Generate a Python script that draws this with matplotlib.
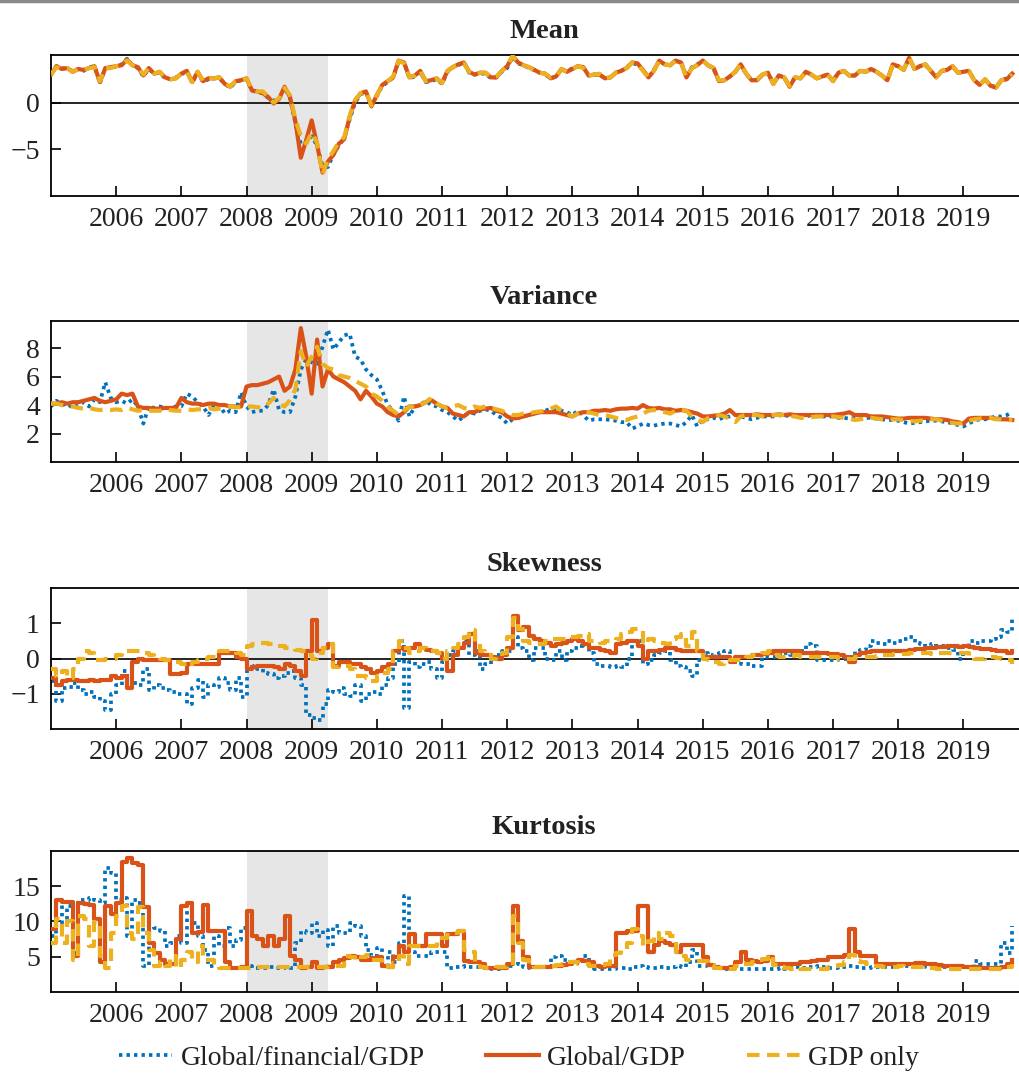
import matplotlib
matplotlib.use("Agg")
import matplotlib.pyplot as plt
from matplotlib.lines import Line2D
import numpy as np

plt.rcParams['font.family'] = ['Liberation Serif', 'DejaVu Serif']

# monthly readings, Jan 2005 .. Oct 2019 (one row per year)
mean_gfg = [3.1, 3.9, 3.7, 3.6, 3.4, 3.6, 3.4, 3.8, 3.9, 2.1, 3.6, 3.8,
            3.8, 4.1, 4.7, 4.0, 3.7, 2.8, 3.6, 3.1, 3.2, 2.6, 2.5, 2.7,
            3.0, 3.4, 2.1, 3.2, 2.2, 2.5, 2.6, 2.6, 2.0, 1.6, 2.2, 2.4,
            2.5, 1.3, 1.1, 1.0, 0.5, 0.2, 0.4, 1.6, 0.5, -2.2, -4.4, -4.3,
            -3.6, -4.6, -6.8, -6.9, -5.5, -4.6, -3.8, -1.8, 0.0, 0.9, 1.1, -0.3,
            0.7, 1.8, 2.2, 2.7, 4.4, 4.3, 2.6, 2.8, 3.3, 2.2, 2.3, 2.5,
            2.0, 3.3, 3.8, 4.0, 4.3, 3.2, 3.0, 3.1, 3.1, 2.6, 2.7, 3.3,
            3.7, 4.9, 4.2, 4.0, 3.7, 3.5, 3.2, 3.0, 2.6, 2.8, 3.6, 3.3,
            3.7, 3.9, 3.8, 2.9, 3.0, 3.0, 2.6, 2.7, 3.2, 3.4, 3.8, 4.2,
            4.1, 3.5, 2.7, 3.5, 4.5, 4.1, 4.0, 4.4, 4.4, 2.8, 3.8, 4.1,
            4.5, 4.0, 3.6, 2.3, 2.4, 2.8, 3.3, 4.0, 3.1, 2.4, 2.4, 3.0,
            3.2, 2.1, 2.9, 2.7, 1.8, 2.7, 2.6, 3.3, 3.0, 2.6, 2.8, 3.0,
            2.4, 3.2, 3.4, 2.9, 2.9, 3.4, 3.3, 3.6, 3.3, 2.9, 2.4, 4.0,
            3.9, 3.5, 4.7, 3.6, 3.9, 4.0, 3.4, 2.8, 3.4, 3.5, 3.9, 3.2,
            3.3, 3.4, 2.4, 1.9, 2.5, 1.8, 1.7, 2.4, 2.6, 3.1]
mean_gg = [3.0, 3.9, 3.6, 3.7, 3.3, 3.6, 3.5, 3.7, 3.9, 2.2, 3.7, 3.8,
           3.9, 4.0, 4.6, 4.0, 3.8, 2.9, 3.7, 3.1, 3.3, 2.7, 2.5, 2.6,
           3.1, 3.4, 2.2, 3.3, 2.3, 2.6, 2.6, 2.7, 2.0, 1.7, 2.3, 2.4,
           2.6, 1.3, 1.2, 1.0, 0.6, -0.1, 0.4, 1.7, 0.6, -2.0, -5.9, -4.0,
           -1.9, -4.5, -7.5, -6.3, -5.6, -4.4, -3.9, -1.5, 0.2, 1.0, 1.2, -0.4,
           0.8, 1.9, 2.3, 2.7, 4.5, 4.3, 2.7, 2.9, 3.4, 2.3, 2.4, 2.6,
           2.1, 3.4, 3.8, 4.1, 4.3, 3.3, 3.0, 3.2, 3.2, 2.7, 2.7, 3.4,
           3.9, 5.0, 4.3, 4.0, 3.8, 3.5, 3.2, 3.1, 2.6, 2.8, 3.6, 3.3,
           3.6, 3.9, 3.8, 2.9, 3.0, 3.0, 2.6, 2.7, 3.2, 3.4, 3.7, 4.3,
           4.2, 3.5, 2.7, 3.4, 4.5, 4.1, 4.0, 4.5, 4.3, 2.7, 3.7, 4.0,
           4.5, 4.0, 3.7, 2.3, 2.4, 2.8, 3.3, 4.1, 3.1, 2.4, 2.4, 3.0,
           3.2, 2.0, 2.9, 2.7, 1.7, 2.7, 2.6, 3.3, 3.0, 2.6, 2.8, 3.0,
           2.3, 3.2, 3.4, 2.9, 2.9, 3.4, 3.3, 3.6, 3.3, 2.9, 2.4, 4.1,
           3.9, 3.5, 4.8, 3.6, 3.9, 4.1, 3.4, 2.7, 3.4, 3.5, 3.9, 3.2,
           3.3, 3.4, 2.4, 1.9, 2.5, 1.8, 1.6, 2.4, 2.5, 3.1]
mean_gdp = [3.0, 3.8, 3.6, 3.7, 3.3, 3.6, 3.5, 3.7, 3.8, 2.3, 3.7, 3.7,
            3.9, 4.0, 4.5, 4.0, 3.8, 3.0, 3.7, 3.1, 3.3, 2.7, 2.5, 2.6,
            3.1, 3.3, 2.2, 3.3, 2.3, 2.6, 2.6, 2.7, 2.1, 1.7, 2.3, 2.4,
            2.6, 1.4, 1.2, 1.2, 0.6, 0.0, 0.5, 1.6, 0.8, -1.8, -3.6, -4.4,
            -3.2, -4.3, -7.7, -6.0, -5.2, -4.2, -3.7, -1.4, 0.3, 1.0, 1.2, -0.3,
            0.8, 1.9, 2.3, 2.8, 4.5, 4.2, 2.7, 2.9, 3.4, 2.3, 2.4, 2.6,
            2.1, 3.4, 3.8, 4.1, 4.2, 3.3, 3.0, 3.2, 3.2, 2.7, 2.8, 3.4,
            3.9, 5.0, 4.3, 4.0, 3.8, 3.4, 3.2, 3.1, 2.7, 2.8, 3.6, 3.3,
            3.6, 3.9, 3.7, 2.9, 3.0, 3.1, 2.6, 2.7, 3.2, 3.4, 3.7, 4.3,
            4.2, 3.4, 2.7, 3.4, 4.5, 4.1, 4.0, 4.5, 4.3, 2.7, 3.7, 4.0,
            4.5, 4.0, 3.7, 2.4, 2.4, 2.8, 3.3, 4.2, 3.1, 2.4, 2.5, 3.0,
            3.2, 2.0, 2.9, 2.7, 1.8, 2.7, 2.6, 3.3, 3.0, 2.6, 2.8, 3.0,
            2.3, 3.2, 3.4, 2.9, 2.9, 3.4, 3.3, 3.6, 3.3, 2.9, 2.3, 4.1,
            3.9, 3.5, 4.8, 3.6, 3.9, 4.1, 3.4, 2.7, 3.4, 3.5, 3.9, 3.2,
            3.3, 3.4, 2.4, 1.9, 2.5, 1.8, 1.6, 2.4, 2.5, 3.0]

var_gfg = [3.9, 4.3, 4.0, 4.1, 3.8, 4.0, 4.2, 3.9, 4.4, 4.2, 5.6, 4.5,
           4.2, 4.3, 4.1, 4.4, 3.9, 2.7, 3.9, 3.8, 3.9, 3.8, 3.8, 3.9,
           3.9, 4.8, 4.6, 4.2, 3.9, 3.3, 4.0, 4.0, 3.4, 3.6, 3.5, 4.9,
           3.9, 3.5, 3.6, 3.6, 4.0, 5.1, 3.65, 3.5, 3.5, 4.6, 6.5, 7.2,
           7.0, 6.9, 8.1, 9.3, 7.9, 8.4, 8.9, 9.0, 7.4, 7.2, 6.5, 6.1,
           5.8, 5.0, 4.0, 3.6, 2.9, 4.6, 3.2, 3.9, 4.0, 4.3, 4.0, 3.9,
           3.65, 3.5, 3.2, 2.9, 3.2, 3.5, 3.4, 3.6, 3.7, 3.6, 3.3, 3.1,
           2.7, 3.0, 3.1, 3.2, 3.3, 3.4, 3.5, 3.6, 3.75, 3.7, 3.6, 3.5,
           3.3, 3.6, 3.3, 2.9, 3.0, 3.0, 3.0, 2.95, 2.9, 2.8, 2.8, 2.35,
           2.5, 2.7, 2.6, 2.55, 2.65, 2.7, 2.7, 2.6, 2.5, 2.8, 3.3, 2.5,
           3.0, 3.0, 3.1, 3.0, 3.15, 3.2, 3.3, 3.2, 3.1, 3.0, 3.1, 3.2,
           3.2, 3.2, 3.3, 3.2, 3.3, 3.3, 3.3, 3.2, 3.3, 3.2, 3.2, 3.2,
           3.2, 3.1, 3.1, 3.05, 3.1, 3.05, 3.1, 3.1, 3.05, 3.0, 2.95, 2.95,
           2.9, 2.8, 2.7, 2.75, 2.8, 2.85, 2.9, 2.9, 2.85, 2.8, 2.7, 2.6,
           2.5, 2.7, 2.9, 3.0, 3.0, 3.1, 3.2, 3.2, 3.3, 3.5]
var_gg = [4.1, 4.1, 4.2, 4.1, 4.2, 4.2, 4.3, 4.4, 4.5, 4.3, 4.2, 4.3,
          4.4, 4.8, 4.7, 4.8, 3.9, 3.8, 3.8, 3.75, 3.75, 3.8, 3.8, 3.8,
          4.5, 4.2, 4.1, 4.1, 4.0, 4.1, 4.1, 4.0, 4.0, 3.9, 3.9, 3.9,
          5.3, 5.4, 5.4, 5.5, 5.6, 5.8, 6.0, 5.0, 5.3, 6.5, 9.4, 7.4,
          4.8, 8.6, 5.3, 6.5, 6.0, 5.8, 5.6, 5.3, 5.0, 4.4, 5.0, 4.6,
          4.1, 3.9, 3.5, 3.3, 3.2, 3.5, 3.9, 3.9, 4.0, 4.2, 4.35, 4.1,
          3.9, 3.8, 3.4, 3.3, 3.2, 3.5, 3.5, 3.7, 3.75, 3.8, 3.6, 3.5,
          3.2, 3.05, 3.1, 3.2, 3.3, 3.4, 3.5, 3.5, 3.5, 3.5, 3.4, 3.3,
          3.2, 3.4, 3.5, 3.5, 3.6, 3.6, 3.65, 3.6, 3.7, 3.75, 3.75, 3.8,
          3.75, 4.0, 3.8, 3.75, 3.8, 3.7, 3.7, 3.6, 3.65, 3.6, 3.5, 3.4,
          3.2, 3.2, 3.25, 3.3, 3.4, 3.65, 3.3, 3.3, 3.3, 3.3, 3.35, 3.3,
          3.3, 3.3, 3.35, 3.3, 3.35, 3.3, 3.3, 3.3, 3.3, 3.3, 3.3, 3.3,
          3.3, 3.35, 3.4, 3.5, 3.3, 3.3, 3.3, 3.2, 3.2, 3.2, 3.15, 3.1,
          3.05, 3.05, 3.1, 3.1, 3.1, 3.1, 3.05, 3.0, 3.0, 2.95, 2.85, 2.8,
          2.7, 3.05, 3.1, 3.1, 3.1, 3.1, 3.05, 3.0, 3.0, 2.95]
var_gdp = [4.1, 4.1, 4.0, 3.9, 3.9, 3.8, 3.75, 3.8, 3.7, 3.65, 3.7, 3.65,
           3.7, 3.65, 3.8, 3.7, 3.6, 3.65, 3.6, 3.6, 3.6, 3.7, 3.65, 3.6,
           3.6, 3.7, 3.65, 3.7, 3.7, 3.8, 3.7, 3.75, 3.8, 3.9, 3.85, 3.85,
           3.9, 3.9, 3.85, 3.8, 4.1, 4.5, 4.1, 3.9, 4.35, 5.1, 7.8, 6.7,
           7.4, 8.1, 6.9, 6.6, 6.5, 6.1, 6.0, 5.9, 5.7, 5.5, 5.3, 4.8,
           4.6, 4.3, 3.9, 3.6, 3.3, 3.6, 3.9, 3.8, 4.0, 4.2, 4.5, 4.1,
           3.9, 3.8, 3.9, 4.0, 3.8, 3.7, 3.9, 3.8, 3.9, 3.8, 3.7, 3.6,
           3.4, 3.3, 3.3, 3.4, 3.4, 3.5, 3.55, 3.6, 3.75, 3.9, 3.6, 3.4,
           3.2, 3.4, 3.5, 3.5, 3.4, 3.3, 3.3, 3.2, 3.1, 3.0, 2.95, 3.1,
           3.2, 3.4, 3.6, 3.65, 3.6, 3.5, 3.4, 3.6, 3.7, 3.6, 3.2, 3.0,
           2.8, 3.1, 3.2, 3.3, 3.2, 3.0, 2.8, 3.2, 3.3, 3.3, 3.3, 3.2,
           3.2, 3.3, 3.3, 3.3, 3.2, 3.2, 3.1, 3.1, 3.15, 3.2, 3.2, 3.2,
           3.2, 3.15, 3.1, 3.05, 2.95, 3.0, 3.05, 3.1, 3.05, 3.0, 3.0, 3.0,
           3.0, 2.95, 2.9, 2.85, 2.9, 2.95, 3.0, 3.0, 2.9, 2.8, 2.75, 2.7,
           2.75, 2.9, 3.0, 3.05, 3.1, 3.1, 3.0, 3.0, 2.95, 2.95]

skew_gfg = [-0.65, -1.2, -0.85, -0.8, -0.7, -0.9, -1.0, -0.95, -1.1, -1.2, -1.45, -1.0,
            -0.75, -0.35, -0.5, -0.7, -0.75, -0.3, -0.9, -0.75, -0.85, -0.9, -0.95, -1.0,
            -1.0, -1.3, -0.85, -0.6, -1.1, -0.75, -0.8, -0.55, -0.7, -0.9, -0.55, -1.1,
            -0.15, -0.2, -0.3, -0.4, -0.45, -0.55, -0.5, -0.4, -0.35, -0.55, -0.75, -1.6,
            -1.7, -1.75, -1.3, -0.9, -0.95, -0.85, -1.0, -1.05, -0.75, -1.2, -1.0, -0.95,
            -1.0, -0.75, -0.55, -0.15, 0.5, -1.4, -0.1, -0.25, -0.15, -0.1, -0.3, -0.55,
            -0.1, 0.1, 0.2, 0.3, 0.5, 0.1, 0.2, -0.3, -0.15, 0.0, 0.1, 0.2,
            0.2, 0.6, 0.3, 0.2, -0.05, 0.3, 0.3, 0.0, -0.05, 0.2, -0.05, 0.2,
            0.3, 0.35, 0.4, 0.15, -0.15, -0.2, -0.2, -0.25, -0.2, -0.25, 0.0, 0.5,
            0.5, -0.15, -0.05, 0.1, 0.15, 0.2, -0.05, -0.2, -0.25, -0.35, -0.5, -0.05,
            0.15, 0.1, 0.12, 0.15, 0.2, -0.1, -0.1, -0.15, -0.15, -0.2, -0.2, 0.05,
            0.05, 0.05, 0.1, 0.15, 0.1, 0.15, 0.2, 0.4, 0.35, -0.05, -0.05, -0.05,
            -0.05, 0.0, 0.0, 0.05, 0.2, 0.25, 0.35, 0.5, 0.45, 0.4, 0.5, 0.45,
            0.5, 0.55, 0.6, 0.45, 0.4, 0.35, 0.4, 0.35, 0.35, 0.3, 0.25, 0.0,
            0.35, 0.5, 0.45, 0.5, 0.5, 0.55, 0.6, 0.8, 0.75, 1.2]
skew_gg = [-0.55, -0.75, -0.65, -0.6, -0.6, -0.65, -0.65, -0.6, -0.65, -0.6, -0.6, -0.5,
           -0.55, -0.5, -0.85, -0.1, 0.0, -0.05, -0.05, -0.05, -0.05, -0.05, -0.45, -0.45,
           -0.4, -0.15, -0.15, -0.15, -0.15, -0.15, -0.15, 0.15, 0.15, 0.15, 0.05, 0.0,
           -0.3, -0.25, -0.2, -0.2, -0.2, -0.25, -0.3, -0.15, -0.2, -0.35, -0.5, 0.2,
           1.1, 0.2, 0.3, 0.4, -0.2, -0.1, -0.1, -0.15, -0.15, -0.25, -0.3, -0.4,
           -0.35, -0.25, -0.15, 0.2, 0.3, 0.25, 0.3, 0.4, 0.3, 0.25, 0.2, 0.15,
           0.0, -0.35, 0.1, 0.3, 0.45, 0.7, 0.15, 0.1, 0.1, 0.05, 0.0, 0.1,
           0.3, 1.2, 0.8, 0.9, 0.65, 0.55, 0.5, 0.45, 0.35, 0.4, 0.45, 0.5,
           0.55, 0.5, 0.4, 0.3, 0.3, 0.25, 0.2, 0.15, 0.4, 0.45, 0.5, 0.5,
           0.35, 0.0, 0.2, 0.2, 0.25, 0.3, 0.3, 0.25, 0.2, 0.2, 0.2, 0.2,
           0.05, 0.05, 0.03, 0.03, 0.03, -0.1, 0.05, 0.05, 0.05, 0.1, 0.1, 0.12,
           0.15, 0.2, 0.2, 0.2, 0.2, 0.2, 0.17, 0.17, 0.15, 0.15, 0.15, 0.13,
           0.13, 0.1, 0.03, -0.1, 0.1, 0.15, 0.18, 0.2, 0.2, 0.22, 0.2, 0.2,
           0.2, 0.22, 0.25, 0.27, 0.28, 0.3, 0.3, 0.32, 0.33, 0.35, 0.35, 0.33,
           0.35, 0.32, 0.3, 0.28, 0.27, 0.25, 0.22, 0.2, 0.17, 0.2]
skew_gdp = [-0.3, -0.5, -0.35, -0.55, -0.3, 0.0, 0.2, 0.15, -0.05, -0.05, 0.0, 0.0,
            0.1, 0.15, 0.2, 0.2, 0.2, 0.15, 0.1, 0.05, 0.0, -0.05, -0.05, -0.1,
            -0.15, -0.2, -0.1, -0.05, 0.0, 0.05, 0.05, 0.2, 0.2, 0.2, 0.15, 0.1,
            0.35, 0.4, 0.45, 0.45, 0.4, 0.35, 0.35, 0.3, 0.3, 0.25, 0.2, 0.1,
            0.0, 0.15, 0.3, 0.4, -0.25, -0.2, -0.2, -0.3, -0.5, -0.5, -0.55, -0.65,
            -0.5, -0.4, -0.3, 0.2, 0.5, 0.3, 0.15, 0.2, 0.3, 0.25, 0.2, 0.15,
            0.0, 0.2, 0.3, 0.4, 0.6, 0.8, 0.4, 0.2, 0.1, 0.0, 0.05, 0.15,
            0.6, 1.15, 0.85, 0.5, 0.45, 0.4, 0.4, 0.5, 0.55, 0.55, 0.55, 0.6,
            0.6, 0.65, 0.7, 0.5, 0.5, 0.45, 0.5, 0.5, 0.55, 0.7, 0.75, 0.85,
            0.8, 0.4, 0.55, 0.5, 0.45, 0.4, 0.55, 0.6, 0.7, 0.35, 0.75, 0.2,
            0.0, -0.05, -0.1, -0.15, -0.1, -0.05, -0.05, 0.0, 0.05, 0.1, 0.1, 0.15,
            0.2, 0.1, 0.05, 0.05, 0.08, 0.1, 0.05, 0.05, 0.03, 0.03, 0.03, 0.03,
            0.03, 0.0, -0.02, 0.0, 0.03, 0.03, 0.05, 0.05, 0.08, 0.1, 0.1, 0.12,
            0.12, 0.13, 0.15, 0.17, 0.16, 0.15, 0.13, 0.15, 0.17, 0.16, 0.15, 0.15,
            0.15, 0.05, 0.0, 0.0, 0.02, 0.03, 0.02, 0.0, -0.05, -0.15]

kurt_gfg = [7.9, 13.1, 9.5, 12.2, 5.5, 13.1, 13.1, 13.3, 13.1, 12.6, 17.6, 16.9,
            13.1, 13.3, 7.9, 13.1, 12.6, 3.7, 9.3, 9.1, 8.7, 6.5, 7.0, 7.9,
            7.0, 12.6, 9.8, 7.9, 6.0, 3.7, 7.9, 6.5, 9.1, 6.5, 7.4, 9.1,
            3.7, 3.4, 3.4, 3.4, 3.5, 3.4, 3.4, 3.5, 3.4, 7.0, 8.6, 8.4,
            9.8, 7.9, 8.8, 6.5, 9.3, 8.4, 8.4, 9.8, 9.3, 7.9, 6.0, 5.1,
            6.2, 3.7, 5.6, 4.2, 7.0, 13.6, 5.6, 5.1, 5.1, 5.1, 5.6, 5.6,
            5.6, 3.4, 3.5, 3.6, 3.7, 3.6, 3.5, 3.4, 3.4, 3.3, 3.2, 3.5,
            3.7, 4.4, 3.9, 3.6, 3.4, 3.5, 3.6, 3.6, 4.9, 5.1, 4.6, 4.2,
            4.2, 4.1, 5.1, 3.7, 3.3, 3.2, 3.2, 3.3, 3.4, 3.4, 3.3, 3.5,
            3.7, 3.5, 3.4, 3.4, 3.5, 3.4, 3.6, 3.7, 3.6, 4.3, 6.0, 3.7,
            3.7, 3.5, 3.4, 3.4, 3.3, 3.2, 3.2, 3.2, 3.2, 3.3, 3.2, 3.2,
            3.3, 3.3, 3.4, 3.3, 3.4, 3.5, 3.4, 3.5, 3.5, 3.7, 3.6, 3.4,
            3.4, 3.5, 3.6, 3.7, 3.5, 3.4, 3.4, 3.5, 3.6, 3.6, 3.6, 3.6,
            3.7, 3.7, 3.6, 3.7, 3.6, 3.8, 3.8, 3.7, 3.6, 3.6, 3.5, 3.5,
            3.5, 3.5, 4.4, 3.9, 3.9, 3.9, 3.9, 7.0, 5.5, 9.3]
kurt_gg = [8.9, 13.0, 12.8, 12.8, 5.1, 12.6, 12.5, 12.4, 10.3, 4.2, 12.2, 11.0,
           12.6, 18.5, 19.0, 18.3, 18.0, 12.0, 7.0, 5.5, 4.6, 4.0, 3.9, 7.5,
           12.2, 12.6, 8.4, 8.5, 12.4, 8.6, 8.6, 8.6, 4.2, 3.4, 3.4, 3.5,
           11.5, 7.9, 7.5, 6.5, 7.9, 6.5, 7.5, 10.8, 5.1, 4.5, 3.4, 3.5,
           4.2, 3.4, 3.6, 3.5, 4.2, 4.5, 4.8, 5.1, 4.9, 4.6, 4.6, 4.8,
           4.9, 3.7, 3.5, 4.9, 6.5, 5.6, 8.2, 6.5, 6.5, 8.2, 8.2, 8.2,
           6.5, 8.2, 8.2, 8.6, 4.4, 4.3, 4.2, 4.0, 3.4, 3.4, 3.4, 3.4,
           4.0, 12.2, 7.2, 5.0, 3.6, 3.6, 3.6, 3.6, 3.7, 3.7, 3.8, 3.9,
           4.2, 4.6, 4.4, 4.3, 3.7, 3.6, 3.7, 3.7, 8.4, 8.4, 8.6, 8.6,
           12.2, 12.2, 5.6, 6.7, 7.2, 7.0, 6.7, 5.6, 6.7, 6.7, 6.7, 6.7,
           5.0, 3.8, 3.5, 3.4, 3.4, 3.5, 4.2, 5.6, 4.6, 4.4, 4.3, 4.4,
           4.9, 3.9, 3.9, 3.9, 3.9, 4.0, 4.2, 4.2, 4.4, 4.5, 4.6, 4.9,
           4.9, 5.0, 5.2, 8.9, 5.6, 5.1, 5.1, 5.1, 3.9, 3.9, 3.9, 3.9,
           3.9, 3.9, 4.0, 4.1, 4.1, 4.0, 4.0, 3.8, 3.7, 3.7, 3.7, 3.7,
           3.6, 3.5, 3.5, 3.4, 3.4, 3.4, 3.4, 3.5, 3.9, 4.6]
kurt_gdp = [7.0, 10.3, 7.0, 10.1, 4.6, 10.8, 10.3, 6.5, 9.9, 5.1, 3.4, 8.4,
            10.8, 12.2, 8.4, 7.5, 12.0, 8.4, 6.0, 3.7, 4.2, 3.7, 5.1, 3.4,
            4.6, 5.6, 4.2, 6.5, 4.6, 4.6, 3.7, 3.4, 3.4, 3.4, 3.4, 3.4,
            3.4, 3.4, 3.5, 3.5, 3.5, 3.5, 3.6, 3.6, 3.6, 3.5, 3.5, 3.6,
            3.6, 3.6, 3.6, 3.7, 3.7, 3.7, 5.1, 4.9, 4.6, 4.9, 5.3, 4.6,
            4.6, 3.7, 3.6, 4.1, 5.1, 3.9, 6.5, 6.5, 6.5, 6.5, 6.5, 7.7,
            7.7, 8.1, 8.4, 8.6, 6.0, 5.6, 3.7, 3.5, 3.4, 3.4, 3.5, 3.6,
            3.7, 10.8, 7.0, 4.6, 3.7, 3.6, 3.6, 3.6, 3.7, 3.8, 3.9, 4.2,
            4.2, 4.0, 3.9, 3.7, 3.7, 3.8, 4.0, 5.3, 5.5, 6.0, 7.0, 8.9,
            7.9, 6.5, 7.2, 8.4, 7.5, 8.4, 8.0, 5.6, 5.1, 4.5, 4.6, 4.4,
            4.4, 3.8, 3.4, 3.4, 3.2, 3.3, 3.7, 3.9, 4.0, 4.2, 4.5, 4.7,
            5.3, 3.8, 3.6, 3.4, 3.3, 3.4, 3.3, 3.2, 3.2, 3.2, 3.3, 3.5,
            3.7, 3.8, 4.2, 5.3, 4.4, 4.2, 3.9, 3.7, 3.7, 3.6, 3.6, 3.6,
            3.7, 3.6, 3.6, 3.5, 3.5, 3.4, 3.4, 3.3, 3.3, 3.3, 3.2, 3.2,
            3.2, 3.2, 3.2, 3.2, 3.3, 3.2, 3.3, 3.3, 3.5, 3.9]

titles = ['Mean', 'Variance', 'Skewness', 'Kurtosis']
labels = ['Global/financial/GDP', 'Global/GDP', 'GDP only']
years = list(range(2006, 2020))
shade = (2008.0, 2009.25)

panels = [
    (mean_gfg, mean_gg, mean_gdp, (-10, 5.1), [-5, 0], True, 'default'),
    (var_gfg, var_gg, var_gdp, (0, 9.9), [2, 4, 6, 8], False, 'default'),
    (skew_gfg, skew_gg, skew_gdp, (-2, 2), [-1, 0, 1], True, 'steps-post'),
    (kurt_gfg, kurt_gg, kurt_gdp, (0, 20), [5, 10, 15], False, 'steps-post'),
]

blue = '#0072BD'
orange = '#D95319'
yellow = '#EDB120'
blue_ls = (0, (0.9, 1.1))
yellow_ls = (0, (3, 1.8))

fig = plt.figure(figsize=(10.2, 10.74), dpi=100)
bottoms = [0.8175, 0.5698, 0.3212, 0.0764]

for i, (a, b, c, ylim, yt, zero, ds) in enumerate(panels):
    ax = fig.add_axes([0.05, bottoms[i], 0.9667, 0.1313])
    ax.axvspan(shade[0], shade[1], color='#e6e6e6', lw=0, zorder=0)
    if zero:
        ax.axhline(0, color='black', lw=1.2, zorder=1)
    xa = 2005 + np.arange(len(a)) / 12
    xb = 2005 + np.arange(len(b)) / 12
    xc = 2005 + np.arange(len(c)) / 12
    ax.plot(xa, a, color=blue, ls=blue_ls, lw=2.7, drawstyle=ds, zorder=2)
    ax.plot(xb, b, color=orange, ls='-', lw=3.0, drawstyle=ds, zorder=3)
    ax.plot(xc, c, color=yellow, ls=yellow_ls, lw=3.0, drawstyle=ds, zorder=4)
    ax.set_xlim(2005, 2020.13)
    ax.set_ylim(*ylim)
    ax.set_xticks(years)
    ax.set_xticklabels([str(y) for y in years])
    ax.set_yticks(yt)
    ax.tick_params(direction='in', length=7, width=1.2, labelsize=20, pad=8,
                   labelcolor='#222222')
    for s in ['left', 'top', 'bottom']:
        ax.spines[s].set_linewidth(1.3)
    ax.spines['right'].set_visible(False)
    ax.set_title(titles[i], fontsize=20.5, fontweight='bold', pad=12,
                 color='#222222')

fig.add_artist(Line2D([0, 1], [0.9988, 0.9988], transform=fig.transFigure,
                      color='#8a8a8a', lw=2.5))

handles = [Line2D([], [], color=blue, ls=blue_ls, lw=2.7),
           Line2D([], [], color=orange, ls='-', lw=3.0),
           Line2D([], [], color=yellow, ls=yellow_ls, lw=3.0)]
fig.legend(handles, labels, loc='center', bbox_to_anchor=(0.509, 0.0149), ncol=3,
           frameon=False, fontsize=20, handlelength=1.9, handletextpad=0.3,
           columnspacing=2.2, labelcolor='#222222')

fig.savefig('out.png', dpi=100)
